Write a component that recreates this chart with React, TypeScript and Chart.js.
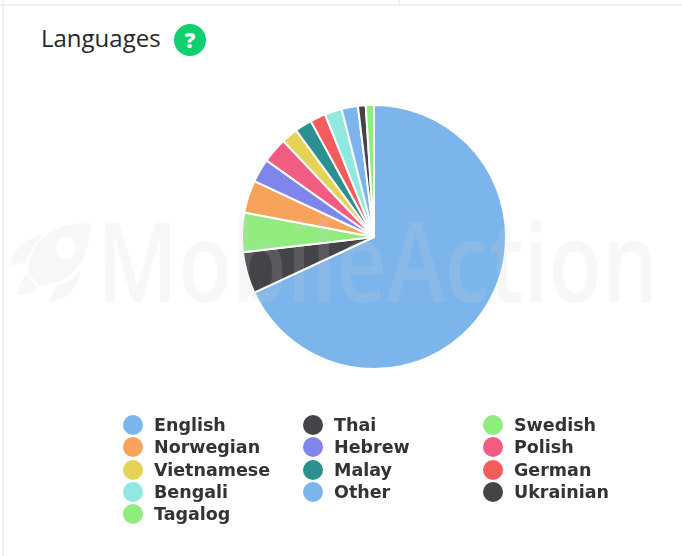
import React, { useEffect, useRef } from "react";
import { Chart, registerables } from "chart.js";

Chart.register(...registerables);

const languages = ["English", "Thai", "Swedish", "Norwegian", "Hebrew", "Polish", "Vietnamese", "Malay", "German", "Bengali", "Other", "Ukrainian", "Tagalog"];
const shares = [68.1, 5.1, 4.8, 4.0, 2.9, 3.1, 2.0, 2.1, 1.9, 2.1, 2.0, 0.95, 1.0];
const colors = ["#7cb5ec", "#434348", "#90ed7d", "#f7a35c", "#8085e9", "#f15c80", "#e4d354", "#2b908f", "#f45b5b", "#91e8e1", "#7cb5ec", "#434348", "#90ed7d"];

const sansStack = '"Open Sans", sans-serif';
const legendStack = '"DejaVu Sans", sans-serif';

export default function App() {
  const ref = useRef<HTMLCanvasElement | null>(null);

  useEffect(() => {
    const chart = new Chart(ref.current as HTMLCanvasElement, {
      type: "pie",
      data: {
        labels: languages,
        datasets: [{ data: shares, backgroundColor: colors, borderColor: "#ffffff", borderWidth: 2, hoverOffset: 0 }],
      },
      options: {
        animation: false,
        responsive: false,
        radius: 132,
        layout: { padding: 0 },
        plugins: { legend: { display: false }, tooltip: { enabled: false }, title: { display: false } },
      },
    });
    return () => chart.destroy();
  }, []);

  return (
    <div style={{ position: "relative", width: 682, height: 556, background: "#fff", overflow: "hidden" }}>
      <style>{"html,body{margin:0;padding:0;background:#fff}"}</style>
      <div style={{ position: "absolute", left: 0, top: 4, width: 682, height: 2, background: "#f0f0f6" }} />
      <div style={{ position: "absolute", left: 2, top: 0, width: 2, height: 556, background: "#f0f0f6" }} />
      <div style={{ position: "absolute", left: 398, top: 0, width: 2, height: 5, background: "#f0f0f6" }} />

      <div style={{ position: "absolute", left: 41, top: 20, fontFamily: sansStack, fontSize: 24, lineHeight: "36px", color: "#25272b" }}>Languages</div>
      <div style={{ position: "absolute", left: 174, top: 24, width: 32, height: 32, borderRadius: "50%", background: "#10cf6f", color: "#fff", fontFamily: sansStack, fontWeight: 800, fontSize: 21, lineHeight: "32px", textAlign: "center" }}>?</div>

      <canvas ref={ref} width={280} height={280} style={{ position: "absolute", left: 234, top: 97, width: 280, height: 280 }} />

      <svg width={682} height={556} style={{ position: "absolute", left: 0, top: 0, pointerEvents: "none" }}>
        <g fill="rgba(206,206,206,0.17)">
          <path fillRule="evenodd" d="M28 273 C28 240 55 222 90 223 C91 258 72 285 39 285 Z M66 237 C60 237 56 242 56 248 C56 254 60 259 66 259 C72 259 76 254 76 248 C76 242 72 237 66 237 Z" />
          <path d="M11 267 C12 250 24 238 44 235 C34 243 28 254 26 263 C20 263 15 264 11 267 Z" />
          <path d="M48 302 C52 296 55 290 56 285 C66 285 74 279 80 270 C80 287 68 300 48 302 Z" />
          <path d="M18 295 C18 287 21 280 26 275 L37 288 C33 293 26 295 18 295 Z" />
        </g>
        <text x={97} y={302} textLength={561} lengthAdjust="spacingAndGlyphs" fill="rgba(206,206,206,0.17)" style={{ fontFamily: '"Open Sans", sans-serif', fontWeight: 600, fontSize: 110 }}>MobileAction</text>
      </svg>

      <div style={{ position: "absolute", left: 123, top: 414, display: "grid", gridTemplateColumns: "180px 180px 180px", gridAutoRows: "22.3px" }}>
        {languages.map((name, i) => (
          <div key={name} style={{ display: "flex", alignItems: "center", height: 22.3 }}>
            <span style={{ width: 20, height: 20, borderRadius: "50%", background: colors[i], flex: "none" }} />
            <span style={{ marginLeft: 11, fontFamily: legendStack, fontWeight: 700, fontSize: 17.5, color: "#333333", whiteSpace: "nowrap" }}>{name}</span>
          </div>
        ))}
      </div>
    </div>
  );
}
